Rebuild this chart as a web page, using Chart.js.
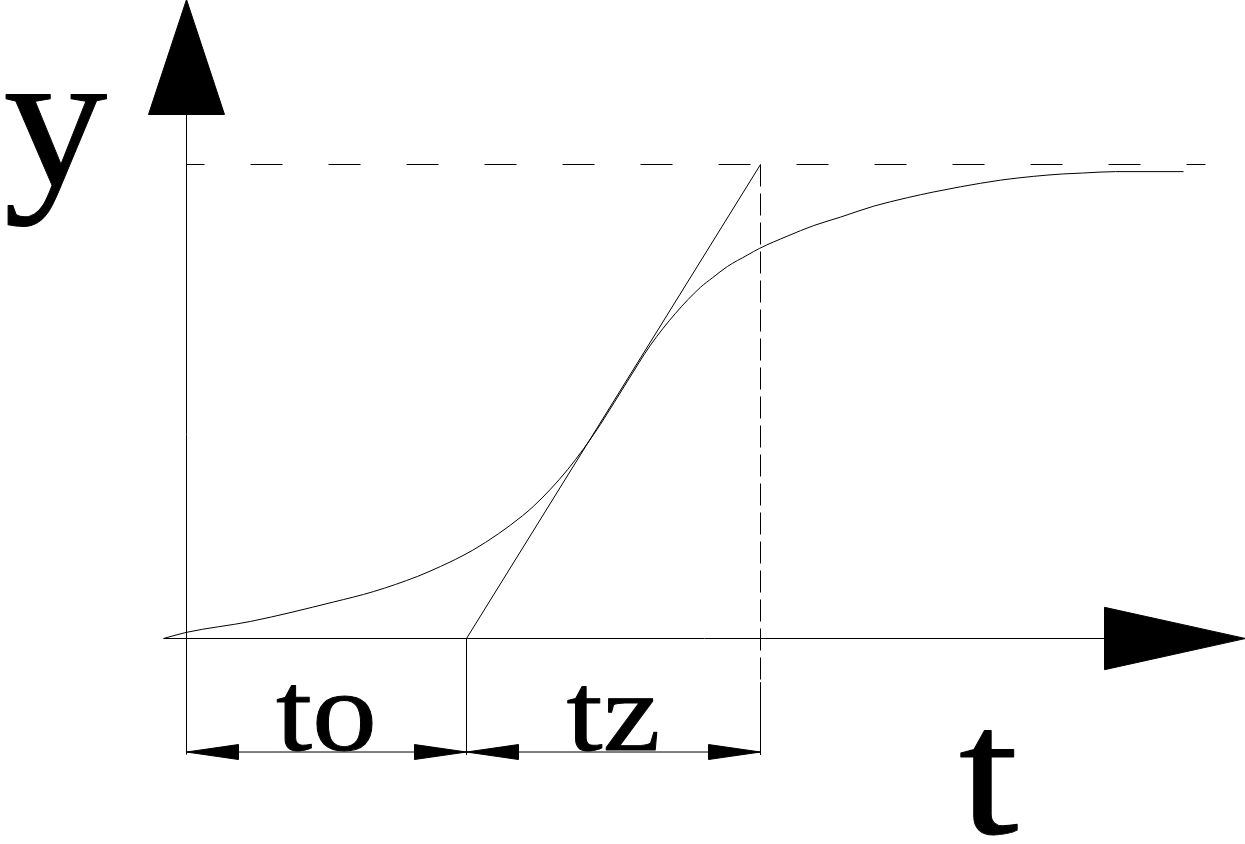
<!DOCTYPE html>
<html>
<head>
<meta charset="utf-8">
<title>S-curve: to / tz</title>
<script src="https://cdn.jsdelivr.net/npm/chart.js@4.4.1/dist/chart.umd.min.js"></script>
<style>
  html, body { margin: 0; padding: 0; background: #fff; }
  #wrap { width: 1245px; height: 844px; }
</style>
</head>
<body>
<div id="wrap"><canvas id="chart" width="1245" height="844"></canvas></div>
<script>
// ================== DATA ==================
// t in units of 100 px, y normalised to the steady value (= 1)
const tCurve = [-0.23, 0, 0.64, 1.47, 1.87, 2.31, 2.54, 2.69, 2.86, 3.12, 3.36, 3.47, 3.64, 3.81, 3.97, 4.07, 4.14,
  4.41, 4.64, 4.89, 5.14, 5.26, 5.41, 5.61, 5.73, 6.01, 6.27, 6.54, 6.87, 7.21, 7.47, 7.74, 8.14, 8.47, 8.76, 8.96, 9.29, 9.97];
const yCurve = [0, 0.013, 0.036, 0.077, 0.099, 0.131, 0.152, 0.167, 0.186, 0.221, 0.259, 0.279, 0.315, 0.356, 0.400, 0.430, 0.452,
  0.543, 0.619, 0.686, 0.741, 0.761, 0.785, 0.809, 0.823, 0.849, 0.871, 0.889, 0.912, 0.930, 0.942, 0.953, 0.967, 0.975, 0.980, 0.982, 0.985, 0.985];

const tO = 2.8;     // dead time
const tZ = 2.94;    // rise (replacement) time
const yFinal = 1;   // steady value

const tAxisRange = [-0.23, 10.59];
const yAxisRange = [-0.245, 1.348];
const dimLevel = -0.2395;       // level of the to / tz dimension line
const dashEndT = 10.19;         // end of the dashed steady-value line
const vDashEnd = -0.093;        // where the dashed vertical turns solid

const labelTexts = ["y", "t", "to", "tz"];

// ================== HELPERS ==================
const pts = (xs, ys) => xs.map((x, i) => ({ x: x, y: ys[i] }));

function hArrow(tipX, baseX, y, h){
  return [{x: baseX, y: y + h}, {x: tipX, y: y}, {x: baseX, y: y - h}, {x: baseX, y: y + h}];
}
function vArrow(x, tipY, baseY, w){
  return [{x: x - w, y: baseY}, {x: x, y: tipY}, {x: x + w, y: baseY}, {x: x - w, y: baseY}];
}

function line(data, extra){
  return Object.assign({
    data: data, showLine: true, borderColor: "#000", borderWidth: 1,
    pointRadius: 0, fill: false, clip: false, tension: 0
  }, extra || {});
}
function head(data){
  return line(data, { fill: "shape", backgroundColor: "#000" });
}

const yArrowBase = 1.1055, xArrowBase = 9.18;
const dimHead = 0.52, dimH = 0.0158;

const datasets = [
  // curve
  line(pts(tCurve, yCurve), { cubicInterpolationMode: "monotone" }),
  // tangent
  line(pts([tO, tO + tZ], [0, yFinal])),
  // axes
  line(pts(tAxisRange, [0, 0])),
  line(pts([0, 0], [yAxisRange[0], yArrowBase])),
  head(vArrow(0, yAxisRange[1], yArrowBase, 0.38)),
  head(hArrow(tAxisRange[1], xArrowBase, 0, 0.0658)),
  // steady value, dashed
  line(pts([0, dashEndT], [yFinal, yFinal]), { borderDash: [32, 46], borderDashOffset: 14 }),
  line(pts([tO + tZ, tO + tZ], [yFinal, vDashEnd]), { borderDash: [22, 7] }),
  line(pts([tO + tZ, tO + tZ], [vDashEnd, yAxisRange[0]])),
  // dimension
  line(pts([tO, tO], [0, yAxisRange[0]])),
  line(pts([0, tO + tZ], [dimLevel, dimLevel])),
  head(hArrow(0, dimHead, dimLevel, dimH)),
  head(hArrow(tO, tO - dimHead, dimLevel, dimH)),
  head(hArrow(tO, tO + dimHead, dimLevel, dimH)),
  head(hArrow(tO + tZ, tO + tZ - dimHead, dimLevel, dimH))
];

// ================== LABELS ==================
const labelPlugin = {
  id: "labels",
  afterDatasetsDraw(chart){
    const ctx = chart.ctx, sx = chart.scales.x, sy = chart.scales.y;
    const spots = [
      { t: -1.31,         y: 0.958,    size: 194, stretch: 1.07, dy: 0 },
      { t: 8.02,          y: -0.411,   size: 182, stretch: 1.18, dy: 0 },
      { t: tO / 2,        y: dimLevel, size: 115, stretch: 1.13, dy: -2 },
      { t: tO + tZ / 2,   y: dimLevel, size: 112, stretch: 1.16, dy: -2 }
    ];
    ctx.save();
    ctx.fillStyle = "#000";
    ctx.strokeStyle = "#000";
    ctx.lineJoin = "round";
    ctx.textAlign = "center";
    ctx.textBaseline = "alphabetic";
    labelTexts.forEach((txt, i) => {
      const s = spots[i];
      ctx.save();
      ctx.translate(sx.getPixelForValue(s.t), sy.getPixelForValue(s.y) + s.dy);
      ctx.scale(s.stretch, 1);
      ctx.font = s.size + 'px "Liberation Serif", "Times New Roman", serif';
      ctx.lineWidth = 0.9;   // letters a touch heavier, like the drawing
      ctx.strokeText(txt, 0, 0);
      ctx.fillText(txt, 0, 0);
      ctx.restore();
    });
    ctx.restore();
  }
};

// ================== CHART ==================
// ranges picked so 1 unit = 100 px (x) / 474 px (y) and lines land on pixel centres
new Chart(document.getElementById("chart"), {
  type: "scatter",
  data: { datasets: datasets },
  options: {
    responsive: false,
    animation: false,
    events: [],
    layout: { padding: 0 },
    plugins: { legend: { display: false }, tooltip: { enabled: false } },
    scales: {
      x: { type: "linear", display: false, min: -1.865, max: 10.585 },
      y: { type: "linear", display: false, min: -0.43354, max: 1.34705 }
    }
  },
  plugins: [labelPlugin]
});
</script>
</body>
</html>
